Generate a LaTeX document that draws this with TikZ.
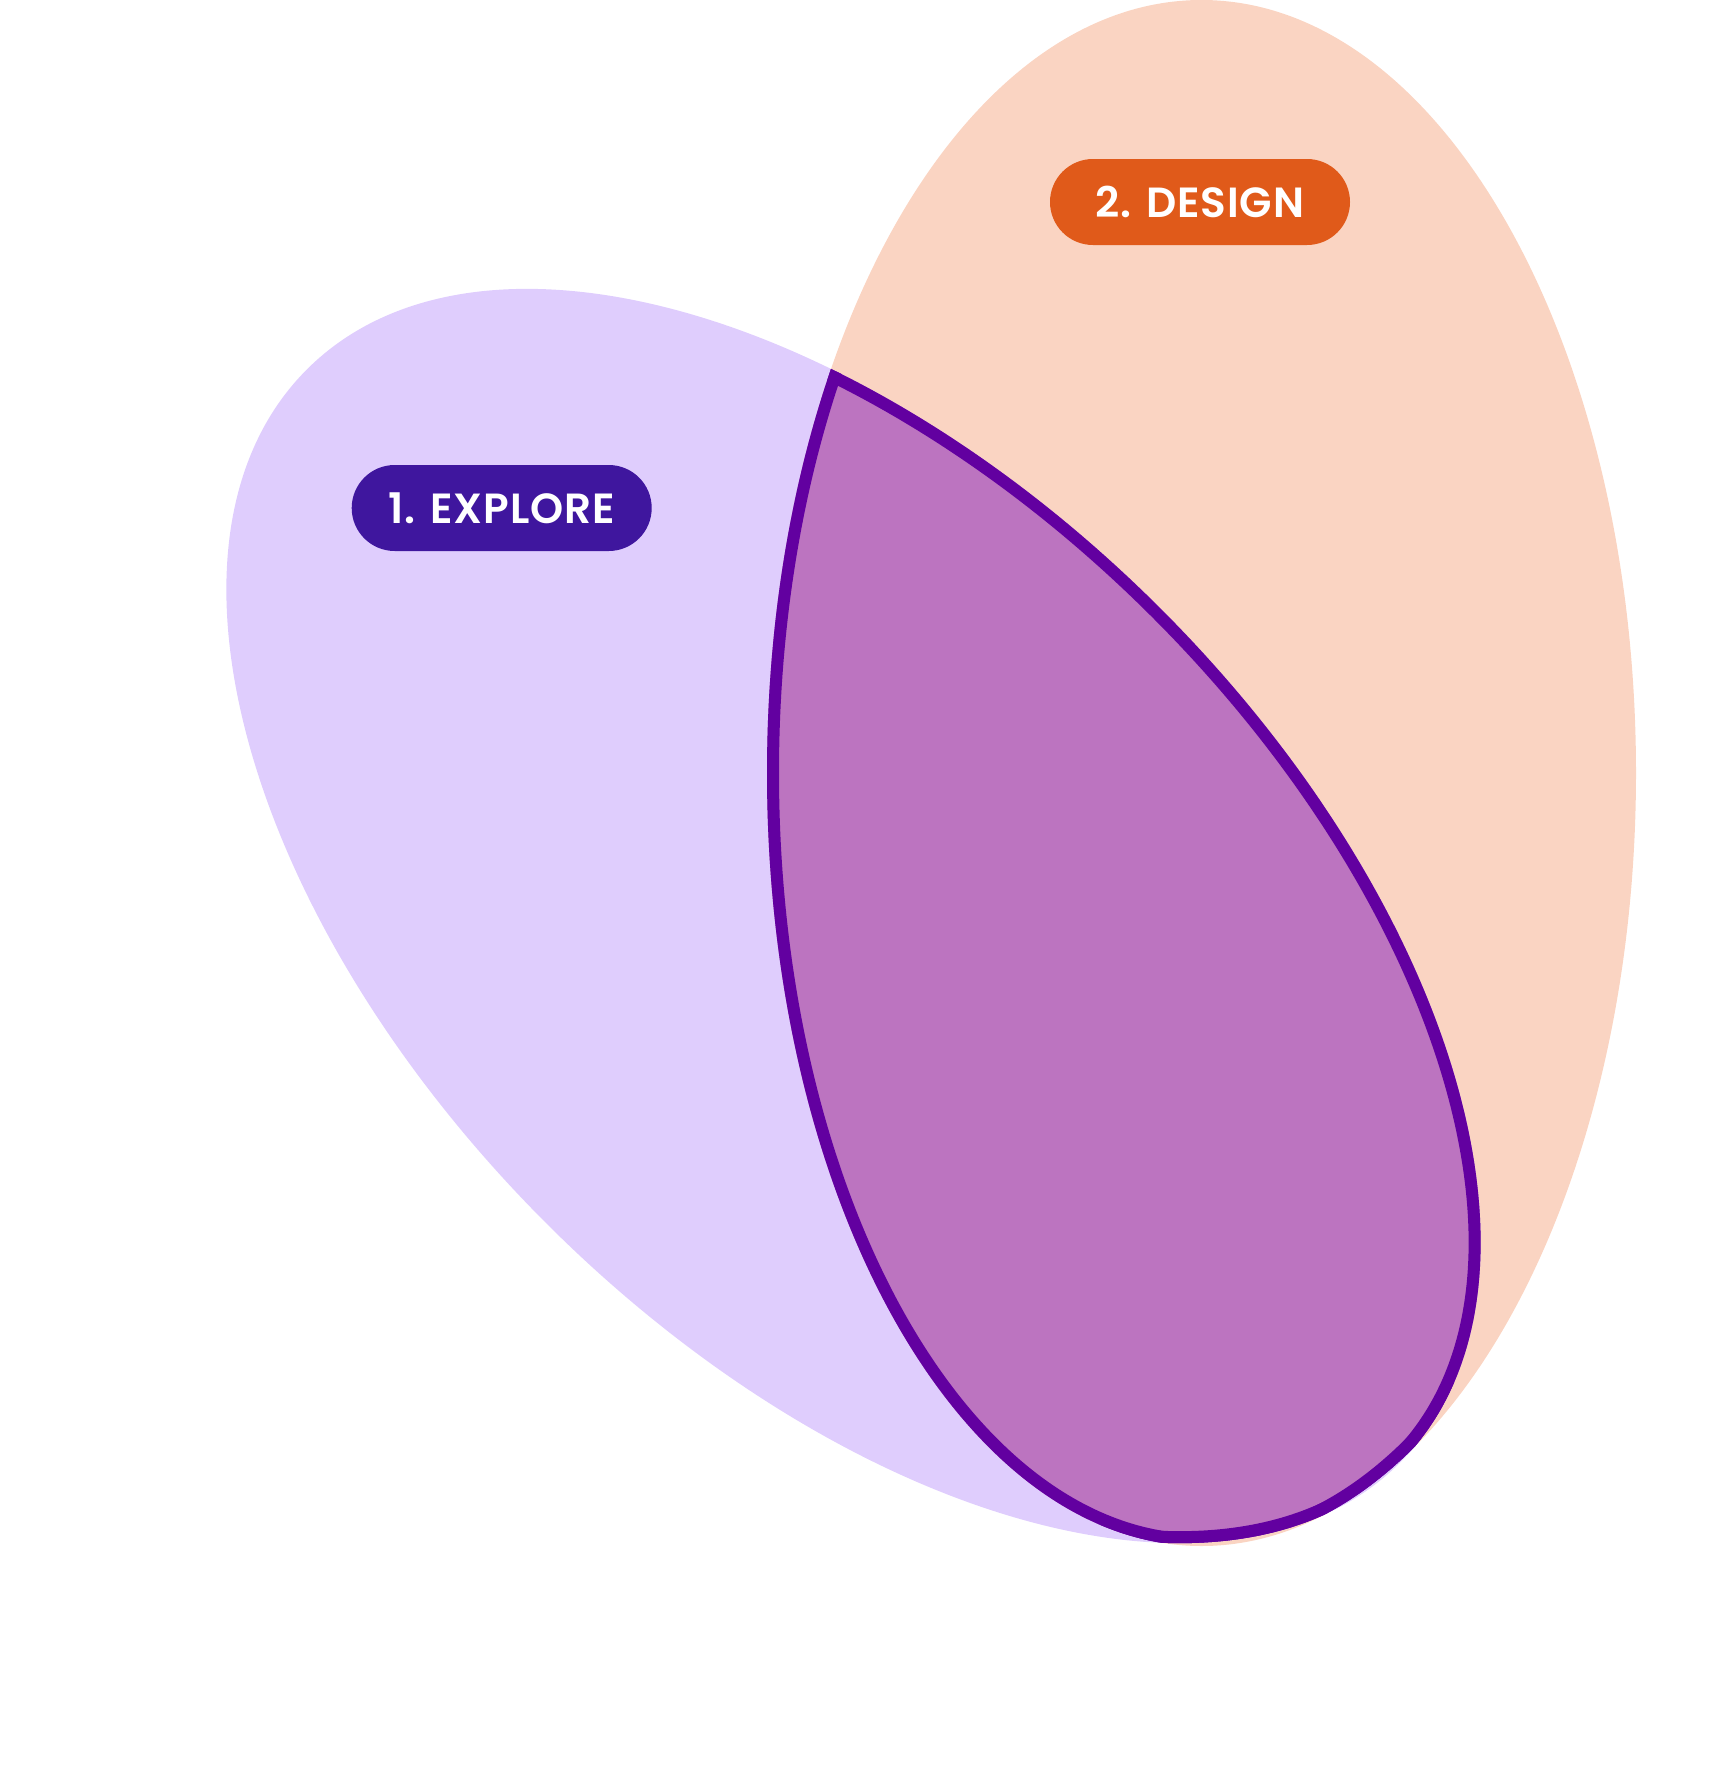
\documentclass[tikz,border=0pt]{standalone}
\usepackage{fontspec}
\setmainfont{Poppins}
\newfontfamily\pillfont[LetterSpace=2]{Poppins SemiBold}
\usetikzlibrary{shapes.misc}
\definecolor{explorefill}{HTML}{DFCDFD}
\definecolor{designfill}{HTML}{FAD4C2}
\definecolor{overlapfill}{HTML}{BC74C0}
\definecolor{overlapline}{HTML}{6200A0}
\definecolor{explorepill}{HTML}{3F169E}
\definecolor{designpill}{HTML}{E05A1A}
\tikzset{
  pill/.style={rounded rectangle, minimum width=3cm, minimum height=0.86cm,
    inner sep=0pt, text=white, font=\pillfont\fontsize{12}{14}\selectfont},
  rim/.style={overlapline, line width=0.24cm},
}
\begin{document}
\begin{tikzpicture}
\useasboundingbox (0,0) rectangle (17.09,-17.69);
% design ellipse (upright)
\fill[designfill] (12.015,-7.73) ellipse [x radius=4.345, y radius=7.73];
% explore ellipse (tilted)
\fill[explorefill] (8.535,-9.16) ellipse [x radius=4.345, y radius=7.73, rotate=45];
% overlap of the two, with its rim kept inside
\begin{scope}
  \clip (12.015,-7.73) ellipse [x radius=4.345, y radius=7.73];
  \clip (8.535,-9.16) ellipse [x radius=4.345, y radius=7.73, rotate=45];
  \fill[overlapfill] (12.015,-7.73) ellipse [x radius=4.345, y radius=7.73];
  \draw[rim] (12.015,-7.73) ellipse [x radius=4.345, y radius=7.73];
  \draw[rim] (8.535,-9.16) ellipse [x radius=4.345, y radius=7.73, rotate=45];
\end{scope}
% labels
\node[pill, fill=explorepill] (explore) at (5.017,-5.08) {1. EXPLORE};
\node[pill, fill=designpill] (design) at (12.00,-2.02) {2. DESIGN};
\end{tikzpicture}
\end{document}
